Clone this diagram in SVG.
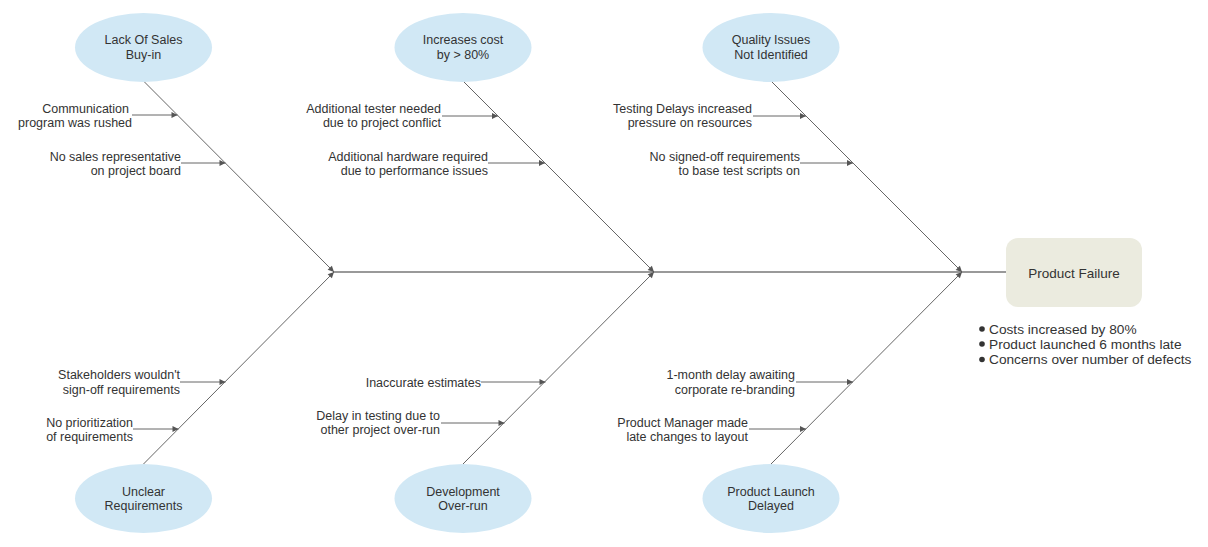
<svg xmlns="http://www.w3.org/2000/svg" width="1208" height="547" viewBox="0 0 1208 547">
<defs>
<marker id="ah" viewBox="0 0 10 10" refX="10" refY="5" markerWidth="8" markerHeight="6" markerUnits="userSpaceOnUse" orient="auto">
<path d="M0,0 L10,5 L0,10 z" fill="#555"/>
</marker>
<style>
.t{font-family:"Liberation Sans",Arial,sans-serif;font-size:12.5px;fill:#333;}
.tc{text-anchor:middle;}
.tr{text-anchor:end;}
.note{font-size:13.7px;}
.cause{fill:#d1e8f5;stroke:none;}
.bone{stroke:#666;stroke-width:1;fill:none;marker-end:url(#ah);}
.sub{stroke:#666;stroke-width:1;fill:none;marker-end:url(#ah);}
.spine{stroke:#999;stroke-width:2;fill:none;}
</style>
</defs>
<rect width="1208" height="547" fill="#fff"/>
<g id="connectors">
<line class="spine" x1="333" y1="272" x2="1006" y2="272"/>
<line class="bone" x1="143.5" y1="81" x2="334" y2="272"/>
<line class="bone" x1="463" y1="81" x2="654" y2="272"/>
<line class="bone" x1="771" y1="81" x2="962" y2="272"/>
<line class="bone" x1="143.5" y1="464" x2="334" y2="272"/>
<line class="bone" x1="463" y1="464" x2="654" y2="272"/>
<line class="bone" x1="771" y1="464" x2="962" y2="272"/>
<line class="sub" x1="132" y1="115" x2="177.5" y2="115"/>
<line class="sub" x1="181" y1="163" x2="225.5" y2="163"/>
<line class="sub" x1="442" y1="116" x2="498" y2="116"/>
<line class="sub" x1="488" y1="163" x2="545" y2="163"/>
<line class="sub" x1="753" y1="116" x2="806" y2="116"/>
<line class="sub" x1="800" y1="163" x2="853" y2="163"/>
<line class="sub" x1="180" y1="382" x2="225.5" y2="382"/>
<line class="sub" x1="133" y1="429" x2="178.5" y2="429"/>
<line class="sub" x1="481" y1="382" x2="545.5" y2="382"/>
<line class="sub" x1="441" y1="423" x2="504.5" y2="423"/>
<line class="sub" x1="796" y1="382" x2="853" y2="382"/>
<line class="sub" x1="749" y1="429" x2="806" y2="429"/>
</g>
<g id="cause-sales">
<ellipse class="cause" cx="143.5" cy="47.5" rx="68.5" ry="34.5"/>
<text class="t tc" x="143.5" y="44">Lack Of Sales</text>
<text class="t tc" x="143.5" y="58.5">Buy-in</text>
</g>
<g id="cause-cost">
<ellipse class="cause" cx="463" cy="47.5" rx="68.5" ry="34.5"/>
<text class="t tc" x="463" y="44">Increases cost</text>
<text class="t tc" x="463" y="58.5">by &gt; 80%</text>
</g>
<g id="cause-quality">
<ellipse class="cause" cx="771" cy="47.5" rx="68.5" ry="34.5"/>
<text class="t tc" x="771" y="44">Quality Issues</text>
<text class="t tc" x="771" y="58.5">Not Identified</text>
</g>
<g id="cause-requirements">
<ellipse class="cause" cx="143.5" cy="498.5" rx="68.5" ry="34.5"/>
<text class="t tc" x="143.5" y="495.5">Unclear</text>
<text class="t tc" x="143.5" y="510">Requirements</text>
</g>
<g id="cause-development">
<ellipse class="cause" cx="463" cy="498.5" rx="68.5" ry="34.5"/>
<text class="t tc" x="463" y="495.5">Development</text>
<text class="t tc" x="463" y="510">Over-run</text>
</g>
<g id="cause-launch">
<ellipse class="cause" cx="771" cy="498.5" rx="68.5" ry="34.5"/>
<text class="t tc" x="771" y="495.5">Product Launch</text>
<text class="t tc" x="771" y="510">Delayed</text>
</g>
<g id="sub-communication">
<text class="t tr" x="129" y="112.5">Communication</text>
<text class="t tr" x="132" y="127">program was rushed</text>
</g>
<g id="sub-sales-rep">
<text class="t tr" x="181" y="160.5">No sales representative</text>
<text class="t tr" x="181" y="175">on project board</text>
</g>
<g id="sub-tester">
<text class="t tr" x="441" y="112.5">Additional tester needed</text>
<text class="t tr" x="441" y="127">due to project conflict</text>
</g>
<g id="sub-hardware">
<text class="t tr" x="488" y="160.5">Additional hardware required</text>
<text class="t tr" x="488" y="175">due to performance issues</text>
</g>
<g id="sub-testing-delays">
<text class="t tr" x="752" y="112.5">Testing Delays increased</text>
<text class="t tr" x="752" y="127">pressure on resources</text>
</g>
<g id="sub-signed-off">
<text class="t tr" x="800" y="160.5">No signed-off requirements</text>
<text class="t tr" x="800" y="175">to base test scripts on</text>
</g>
<g id="sub-stakeholders">
<text class="t tr" x="180" y="379">Stakeholders wouldn't</text>
<text class="t tr" x="180" y="393.5">sign-off requirements</text>
</g>
<g id="sub-prioritization">
<text class="t tr" x="133" y="426.5">No prioritization</text>
<text class="t tr" x="133" y="441">of requirements</text>
</g>
<g id="sub-estimates">
<text class="t tr" x="481" y="386.5">Inaccurate estimates</text>
</g>
<g id="sub-delay-testing">
<text class="t tr" x="440" y="419.5">Delay in testing due to</text>
<text class="t tr" x="440" y="434">other project over-run</text>
</g>
<g id="sub-rebranding">
<text class="t tr" x="795" y="379">1-month delay awaiting</text>
<text class="t tr" x="795" y="393.5">corporate re-branding</text>
</g>
<g id="sub-layout">
<text class="t tr" x="748" y="426.5">Product Manager made</text>
<text class="t tr" x="748" y="441">late changes to layout</text>
</g>
<g id="effect">
<rect x="1006" y="238" width="136" height="69" rx="12" ry="12" fill="#ebebdf"/>
<text class="t tc" x="1074" y="277.5" style="font-size:13.5px">Product Failure</text>
</g>
<g id="effect-notes">
<circle cx="982" cy="329" r="2.8" fill="#333"/>
<circle cx="982" cy="344" r="2.8" fill="#333"/>
<circle cx="982" cy="359.5" r="2.8" fill="#333"/>
<text class="t note" x="989" y="333.5">Costs increased by 80%</text>
<text class="t note" x="989" y="348.5">Product launched 6 months late</text>
<text class="t note" x="989" y="364">Concerns over number of defects</text>
</g>
</svg>
